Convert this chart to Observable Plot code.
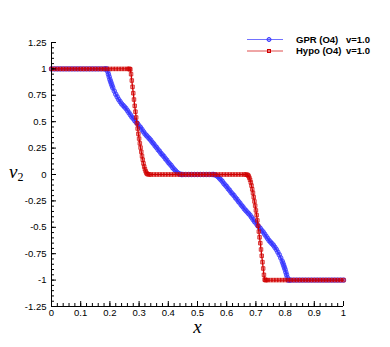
<!DOCTYPE html>
<html><head><meta charset="utf-8">
<script src="https://cdn.jsdelivr.net/npm/d3@7"></script>
<script src="https://cdn.jsdelivr.net/npm/@observablehq/plot@0.6"></script>
<style>body{margin:0;background:#fff}#chart{width:390px;height:347px}</style>
</head><body><div id="chart"></div>
<script>
// ---- data ----
const seriesNames = ["GPR (O4)   v=1.0", "Hypo (O4)   v=1.0"];

const gprX = [
  0,0.01,0.02,0.03,0.04,0.05,0.06,0.07,0.08,0.09,0.1,0.11,0.12,0.13,0.14,0.15,0.16,0.17,0.18,0.185,
  0.19,0.1925,0.195,0.1975,0.2,0.2025,0.205,0.2075,0.21,
  0.215,0.22,0.225,0.23,0.235,0.24,0.245,0.25,0.255,0.26,
  0.265,0.27,0.275,0.28,0.285,0.29,0.295,0.3,0.305,0.31,
  0.315,0.32,0.325,0.33,0.335,0.34,0.345,0.35,0.355,0.36,
  0.365,0.37,0.375,0.38,0.385,0.39,0.395,0.4,0.405,0.41,
  0.415,0.42,0.425,0.43,0.435,0.44,0.445,
  0.45,0.46,0.47,0.48,0.49,0.5,0.51,0.52,0.53,0.54,0.55,
  0.555,0.56,0.565,0.57,0.575,0.58,0.585,
  0.59,0.595,0.6,0.605,0.61,0.615,0.62,0.625,0.63,0.635,
  0.64,0.645,0.65,0.655,0.66,0.665,0.67,0.675,0.68,0.685,
  0.69,0.695,0.7,0.705,0.71,0.715,0.72,0.725,0.73,0.735,
  0.74,0.745,0.75,0.755,0.76,0.765,0.77,0.775,0.78,0.785,
  0.79,0.7925,0.795,0.7975,0.8,0.8025,0.805,0.8075,0.81,
  0.815,0.82,0.83,0.84,0.85,0.86,0.87,0.88,0.89,0.9,0.91,0.92,0.93,0.94,0.95,0.96,0.97,0.98,0.99,1
];
const gprV = [
  1,1,1,1,1,1,1,1,1,1,1,1,1,1,1,1,1,1,1,1,
  1,0.975,0.95,0.925,0.9,0.88,0.86,0.84,0.82,
  0.79,0.76,0.735,0.71,0.69,0.67,0.655,0.64,0.625,0.605,
  0.585,0.565,0.545,0.53,0.51,0.495,0.48,0.46,0.445,0.425,
  0.405,0.385,0.37,0.355,0.34,0.325,0.305,0.29,0.27,0.255,
  0.235,0.22,0.2,0.185,0.17,0.15,0.135,0.115,0.1,0.085,
  0.065,0.05,0.035,0.02,0.01,0.003,0,
  0,0,0,0,0,0,0,0,0,0,0,
  0,-0.003,-0.01,-0.02,-0.035,-0.05,-0.065,
  -0.085,-0.1,-0.115,-0.135,-0.15,-0.17,-0.185,-0.2,-0.22,-0.235,
  -0.255,-0.27,-0.29,-0.305,-0.325,-0.34,-0.355,-0.37,-0.385,-0.405,
  -0.425,-0.445,-0.46,-0.48,-0.495,-0.51,-0.53,-0.545,-0.565,-0.585,
  -0.605,-0.625,-0.64,-0.655,-0.67,-0.69,-0.71,-0.735,-0.76,-0.79,
  -0.82,-0.84,-0.86,-0.88,-0.9,-0.925,-0.95,-0.975,-1,
  -1,-1,-1,-1,-1,-1,-1,-1,-1,-1,-1,-1,-1,-1,-1,-1,-1,-1,-1,-1
];

const hypoX = [
  0,0.01,0.02,0.03,0.04,0.05,0.06,0.07,0.08,0.09,0.1,0.11,0.12,0.13,0.14,0.15,0.16,0.17,0.18,0.19,0.2,0.21,0.22,0.23,0.24,0.25,0.26,0.265,
  0.2675,0.27,0.2725,0.275,0.2775,0.28,0.2825,0.285,0.2875,0.29,0.2925,0.295,0.2975,
  0.3,0.3025,0.305,0.3075,0.31,0.3125,0.315,0.3175,0.32,0.3225,0.325,0.3275,0.33,
  0.335,0.34,0.35,0.36,0.37,0.38,0.39,0.4,0.41,0.42,0.43,0.44,0.45,0.46,0.47,0.48,0.49,0.5,
  0.51,0.52,0.53,0.54,0.55,0.56,0.57,0.58,0.59,0.6,0.61,0.62,0.63,0.64,0.65,0.66,0.665,
  0.67,0.6725,0.675,0.6775,0.68,0.6825,0.685,0.6875,0.69,0.6925,0.695,0.6975,0.7,
  0.7025,0.705,0.7075,0.71,0.7125,0.715,0.7175,0.72,0.7225,0.725,0.7275,0.73,0.7325,
  0.735,0.74,0.75,0.76,0.77,0.78,0.79,0.8,0.81,0.82,0.83,0.84,0.85,0.86,0.87,0.88,0.89,0.9,0.91,0.92,0.93,0.94,0.95,0.96,0.97,0.98,0.99,1
];
const hypoV = [
  1,1,1,1,1,1,1,1,1,1,1,1,1,1,1,1,1,1,1,1,1,1,1,1,1,1,1,1,
  1,0.995,0.95,0.89,0.83,0.77,0.71,0.65,0.595,0.54,0.485,0.435,0.385,
  0.34,0.295,0.255,0.215,0.175,0.14,0.105,0.075,0.05,0.03,0.015,0.006,0.002,
  0,0,0,0,0,0,0,0,0,0,0,0,0,0,0,0,0,0,
  0,0,0,0,0,0,0,0,0,0,0,0,0,0,0,0,0,
  -0.002,-0.006,-0.015,-0.03,-0.05,-0.075,-0.105,-0.14,-0.175,-0.215,-0.255,-0.295,-0.34,
  -0.385,-0.435,-0.485,-0.54,-0.595,-0.65,-0.71,-0.77,-0.83,-0.89,-0.95,-0.995,-1,
  -1,-1,-1,-1,-1,-1,-1,-1,-1,-1,-1,-1,-1,-1,-1,-1,-1,-1,-1,-1,-1,-1,-1,-1,-1,-1,-1,-1
];

const xMajor = [0,0.1,0.2,0.3,0.4,0.5,0.6,0.7,0.8,0.9,1];
const xMajorLabels = ["0","0.1","0.2","0.3","0.4","0.5","0.6","0.7","0.8","0.9","1"];
const yMajor = [-1.25,-1,-0.75,-0.5,-0.25,0,0.25,0.5,0.75,1,1.25];
const yMajorLabels = ["-1.25","-1","-0.75","-0.5","-0.25","0","0.25","0.5","0.75","1","1.25"];
const xMinor = d3.range(51).map(i => i / 50);
const yMinor = d3.range(51).map(i => -1.25 + i * 0.05);

// ---- build ----
const gpr = gprX.map((x, i) => ({x, v: gprV[i]}));
const hypo = hypoX.map((x, i) => ({x, v: hypoV[i]}));

const W = 390, H = 347, mL = 51, mR = 47, mT = 42, mB = 41;
const fw = W - mL - mR, fh = H - mT - mB;
const blue = "#3535ff", red = "#d20000";
const sans = "'Liberation Sans', Arial, Helvetica, sans-serif";
const serif = "'Liberation Serif', 'Times New Roman', serif";

const chart = Plot.plot({
  width: W, height: H,
  marginLeft: mL, marginRight: mR, marginTop: mT, marginBottom: mB,
  x: {domain: [0, 1], label: null},
  y: {domain: [-1.25, 1.25], label: null},
  style: {fontFamily: sans, fontSize: "9.5px", color: "#000", background: "#fff", overflow: "visible"},
  marks: [
    Plot.axisX({ticks: xMajor, tickSize: 0, tickPadding: 3, tickFormat: d => xMajorLabels[xMajor.indexOf(d)], label: null}),
    Plot.axisY({ticks: yMajor, tickSize: 0, tickPadding: 5, tickFormat: d => yMajorLabels[yMajor.indexOf(d)], label: null}),
    Plot.line(gpr, {x: "x", y: "v", stroke: blue, strokeWidth: 1.5}),
    Plot.dot(gpr, {x: "x", y: "v", r: 2.3, stroke: blue, strokeOpacity: 0.75, strokeWidth: 1, fill: blue, fillOpacity: 0.45}),
    Plot.line(hypo, {x: "x", y: "v", stroke: red, strokeWidth: 1.3}),
    Plot.dot(hypo, {x: "x", y: "v", symbol: "square", r: 2, stroke: red, strokeOpacity: 0.7, strokeWidth: 1, fill: red, fillOpacity: 0.3}),
    Plot.tickX(xMinor, {x: d => d, insetTop: fh - 3, stroke: "#000"}),
    Plot.tickX(xMajor, {x: d => d, insetTop: fh - 5, stroke: "#000"}),
    Plot.tickY(yMinor, {y: d => d, insetRight: fw - 3, stroke: "#000"}),
    Plot.tickY(yMajor, {y: d => d, insetRight: fw - 5, stroke: "#000"}),
    Plot.ruleX([0], {stroke: "#000"}),
    Plot.ruleY([-1.25], {stroke: "#000"}),
    Plot.text(["x"], {text: d => d, frameAnchor: "bottom", dy: 26, fontSize: 19, fontStyle: "italic", fontFamily: serif})
  ]
});
document.getElementById("chart").appendChild(chart);

const svg = d3.select(chart);
// y-axis title v_2
const yt = svg.append("text").attr("x", 9).attr("y", 178).attr("text-anchor", "start")
  .attr("font-family", serif).attr("font-size", 19).attr("fill", "#000");
yt.append("tspan").attr("font-style", "italic").text("v");
yt.append("tspan").attr("font-size", 12).attr("dy", 3).text("2");

// legend
const leg = svg.append("g").attr("text-anchor", "start");
const rows = [
  {y: 39.5, color: blue, sym: "circle", label: seriesNames[0]},
  {y: 51, color: red, sym: "square", label: seriesNames[1]}
];
rows.forEach(r => {
  leg.append("line").attr("x1", 247).attr("x2", 283).attr("y1", r.y).attr("y2", r.y)
    .attr("stroke", r.color).attr("stroke-opacity", 0.7).attr("stroke-width", 1);
  if (r.sym === "circle") {
    leg.append("circle").attr("cx", 269).attr("cy", r.y).attr("r", 2)
      .attr("fill", r.color).attr("fill-opacity", 0.4).attr("stroke", r.color);
  } else {
    leg.append("rect").attr("x", 267.5).attr("y", r.y - 1.5).attr("width", 3).attr("height", 3)
      .attr("fill", r.color).attr("fill-opacity", 0.3).attr("stroke", r.color);
  }
  const parts = r.label.split(/\s{2,}/);
  leg.append("text").attr("x", 296).attr("y", r.y + 3).attr("text-anchor", "start").attr("font-family", sans)
    .attr("font-size", 9.5).attr("font-weight", "bold").attr("fill", "#000").text(parts[0]);
  leg.append("text").attr("x", 346).attr("y", r.y + 3).attr("text-anchor", "start").attr("font-family", sans)
    .attr("font-size", 9.5).attr("font-weight", "bold").attr("fill", "#000").text(parts[1]);
});
</script>
</body></html>
